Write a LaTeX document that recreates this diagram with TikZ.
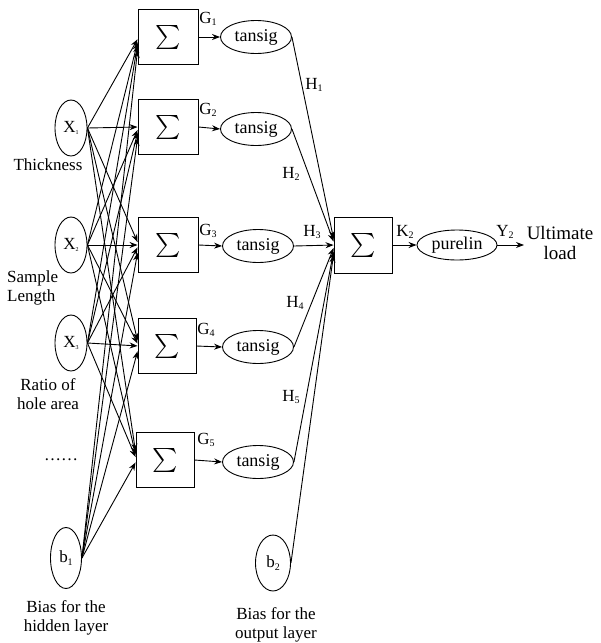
\documentclass[tikz,border=0pt]{standalone}
\usepackage{fontspec}
\usepackage{graphicx}
\setmainfont{Liberation Serif}
\usetikzlibrary{shapes.geometric,arrows.meta,calc}
\newcommand\mysb[1]{\raisebox{-0.15em}{\fontsize{10}{10}\selectfont #1}}
\newcommand\mytsb[1]{\raisebox{-0.1em}{\fontsize{6}{6}\selectfont #1}}
\newcommand\mysum{\scalebox{2.4}{$\sum$}}
\begin{document}
\begin{tikzpicture}[x=1pt,y=-1pt,
  inell/.style={ellipse,draw,line width=0.9pt,minimum width=32pt,minimum height=56pt,inner sep=0pt,font=\fontsize{17}{17}\selectfont},
  sumbox/.style={draw,line width=0.9pt,minimum width=60pt,minimum height=55pt,inner sep=0pt,font=\normalsize},
  tanell/.style={ellipse,draw,line width=0.9pt,minimum width=71pt,minimum height=33pt,inner sep=0pt,font=\fontsize{18}{18}\selectfont},
  lbl/.style={font=\fontsize{17}{19}\selectfont,align=center,inner sep=0pt},
  arr/.style={line width=0.9pt,-{Stealth[length=8pt,width=6pt]}},
  ln/.style={line width=0.9pt}]
\useasboundingbox (0,0) rectangle (601,643);
% inputs
\node[inell] (X1) at (71,128) {X\mytsb{1}};
\node[inell] (X2) at (71,245) {X\mytsb{2}};
\node[inell] (X3) at (71,343) {X\mytsb{3}};
\node[inell,minimum width=31pt,minimum height=61pt] (b1) at (66,558) {b\mysb{1}};
% hidden sums
\node[sumbox] (S1) at (168,37) {\mysum};
\node[sumbox] (S2) at (168,127) {\mysum};
\node[sumbox] (S3) at (168,245) {\mysum};
\node[sumbox,minimum width=58pt] (S4) at (167,346) {\mysum};
\node[sumbox,minimum width=58pt] (S5) at (165,460) {\mysum};
% tansig
\node[tanell] (T1) at (256,37) {tansig};
\node[tanell] (T2) at (256,129) {tansig};
\node[tanell] (T3) at (258,246) {tansig};
\node[tanell] (T4) at (258,347) {tansig};
\node[tanell] (T5) at (258,462) {tansig};
% output
\node[sumbox,minimum width=58pt,minimum height=56pt] (O) at (363,245) {\mysum};
\node[tanell,minimum width=80pt,minimum height=30pt] (P) at (457,245) {purelin};
\node[inell,minimum width=35pt,minimum height=56pt] (b2) at (273,563) {b\mysb{2}};
\coordinate (Yend) at (524,245);
% input connections
\foreach \s/\ys in {X1/128,X2/245,X3/343,b1/558}{
  \foreach \k/\yk in {S1/37,S2/127,S3/245,S4/346,S5/460}{
    \pgfmathsetmacro\off{0.025*(\ys-\yk)}
    \draw[arr] (\s.east) -- ($(\k.west)+(0,\off)$);
  }
}
% hidden to tansig
\foreach \i in {1,...,5}{
  \draw[arr] (S\i.east) -- (T\i.west);
}
% tansig to output
\foreach \s/\ys in {T1/37,T2/129,T3/246,T4/347,T5/462,b2/563}{
  \pgfmathsetmacro\off{0.03*(\ys-245)}
  \draw[arr] (\s.east) -- ($(O.west)+(0,\off)$);
}
\draw[arr] (O.east) -- (P.west);
\draw[arr] (P.east) -- (Yend);
% labels
\node[lbl] (g1) at (208,19) {G\mysb{1}};
\node[lbl] (g2) at (208,110) {G\mysb{2}};
\node[lbl] (g3) at (208,231) {G\mysb{3}};
\node[lbl] (g4) at (206,330) {G\mysb{4}};
\node[lbl] (g5) at (206,440) {G\mysb{5}};
\node[lbl] (h1) at (314,85) {H\mysb{1}};
\node[lbl] (h2) at (291,174) {H\mysb{2}};
\node[lbl] (h3) at (312,232) {H\mysb{3}};
\node[lbl] (h4) at (295,303) {H\mysb{4}};
\node[lbl] (h5) at (291,397) {H\mysb{5}};
\node[lbl] (k2) at (405,232) {K\mysb{2}};
\node[lbl] (y2) at (505,232) {Y\mysb{2}};
\node[lbl,font=\fontsize{19}{20}\selectfont] (ult) at (560,243) {Ultimate\\load};
\node[lbl] (thk) at (48,165) {Thickness};
\node[lbl,align=left,anchor=west] (sl) at (7,288) {Sample\\Length};
\node[lbl] (rh) at (48,394) {Ratio of\\hole area};
\node[lbl] (dots) at (61,460) {……};
\node[lbl] (bh) at (66,618) {Bias for the\\hidden layer};
\node[lbl] (bo) at (276,625) {Bias for the\\output layer};
\end{tikzpicture}
\end{document}
